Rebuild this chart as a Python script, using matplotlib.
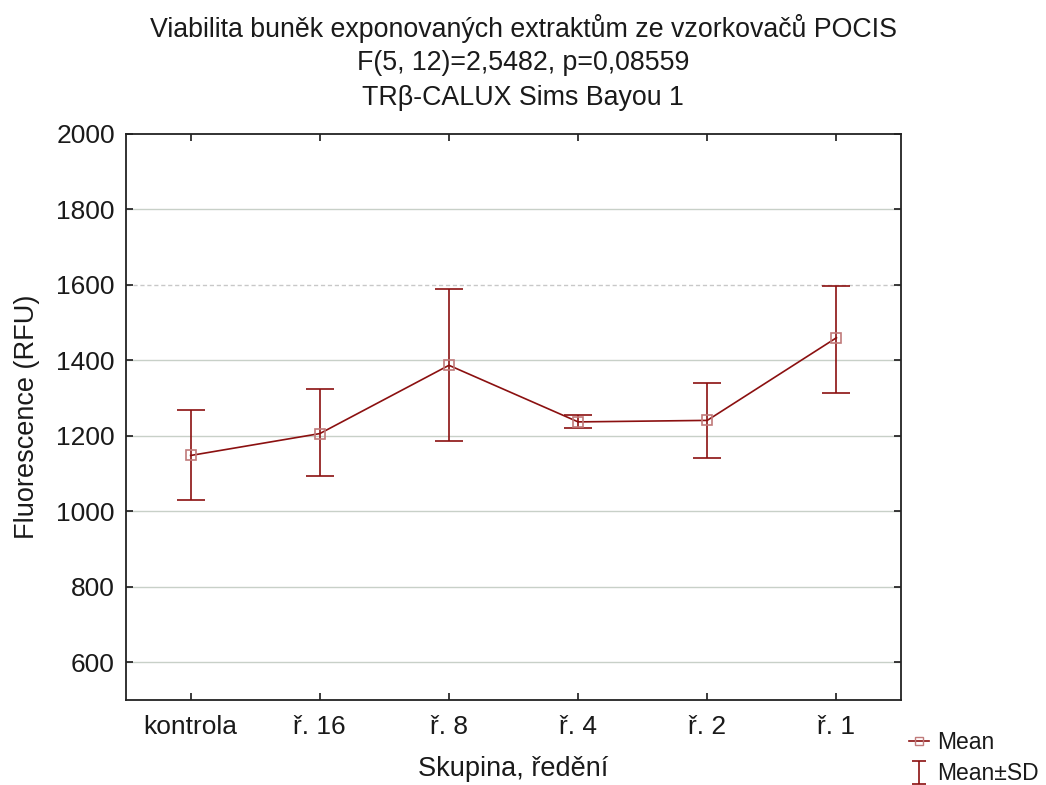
import matplotlib
matplotlib.use("Agg")
import matplotlib.pyplot as plt
import numpy as np

plt.rcParams['font.family'] = ['Liberation Sans', 'DejaVu Sans']

categories = ["kontrola", "ř. 16", "ř. 8", "ř. 4", "ř. 2", "ř. 1"]
means = [1148, 1206, 1387, 1237, 1241, 1460]
sd_upper = [1269, 1323, 1588, 1255, 1340, 1598]
sd_lower = [1030, 1093, 1187, 1220, 1142, 1314]
yticks = [600, 800, 1000, 1200, 1400, 1600, 1800, 2000]

fig = plt.figure(figsize=(10.46, 7.85), dpi=100)
ax = fig.add_axes([0.1205, 0.1083, 0.7409, 0.7210])

x = np.arange(len(categories))
line_col = '#8b1010'
txt_col = '#1a1a1a'
means_a = np.array(means)
yerr = [means_a - np.array(sd_lower), np.array(sd_upper) - means_a]

for yv in yticks:
    if yv == 1600:
        ax.axhline(yv, color='#c8c8c8', lw=1.0, ls=(0, (3, 2)), zorder=0)
    elif yv != 2000:
        ax.axhline(yv, color='#c8d0c8', lw=1.0, zorder=0)

ax.errorbar(x, means, yerr=yerr, fmt='none', ecolor=line_col, elinewidth=1.2,
            capsize=10, capthick=1.2, zorder=2)
ax.plot(x, means, color=line_col, lw=1.2, marker='s', markersize=7,
        markerfacecolor='none', markeredgecolor='#c07a7a', markeredgewidth=1.2, zorder=3)

ax.set_xlim(-0.5, 5.5)
ax.set_ylim(500, 2000)
ax.set_xticks(x)
ax.set_xticklabels(categories)
ax.set_yticks(yticks)
ax.tick_params(direction='in', length=5, width=1.2, labelsize=19, top=True, right=True,
               labeltop=False, labelright=False, colors=txt_col)
ax.tick_params(axis='x', pad=11)
ax.tick_params(axis='y', pad=8)
for s in ax.spines.values():
    s.set_linewidth(1.3)
    s.set_color('#222222')

ax.set_xlabel("Skupina, ředění", fontsize=19.5, labelpad=12, color=txt_col)
ax.set_ylabel("Fluorescence (RFU)", fontsize=19.5, labelpad=12, color=txt_col)

fig.text(0.5, 0.964, "Viabilita buněk exponovaných extraktům ze vzorkovačů POCIS",
         ha='center', va='center', fontsize=19.3, color=txt_col)
fig.text(0.5, 0.920, "F(5, 12)=2,5482, p=0,08559", ha='center', va='center',
         fontsize=19.3, color=txt_col)
fig.text(0.5, 0.875, "TRβ-CALUX Sims Bayou 1", ha='center', va='center',
         fontsize=19.3, color=txt_col)

h_mean, = ax.plot([np.nan], [np.nan], color=line_col, lw=1.2, marker='s', markersize=6,
                  markerfacecolor='none', markeredgecolor='#c07a7a')
h_sd = ax.errorbar([np.nan], [np.nan], yerr=[1], fmt='none', ecolor=line_col,
                   elinewidth=1.2, capsize=5, capthick=1.2)
leg = fig.legend([h_mean, h_sd], ["Mean", "Mean±SD"], loc='lower left',
                 bbox_to_anchor=(0.86, -0.012), frameon=False, fontsize=16.5,
                 handlelength=0.9, handletextpad=0.35, labelspacing=0.35,
                 borderaxespad=0.0)
for t in leg.get_texts():
    t.set_color(txt_col)

fig.savefig("out.png", dpi=100)
